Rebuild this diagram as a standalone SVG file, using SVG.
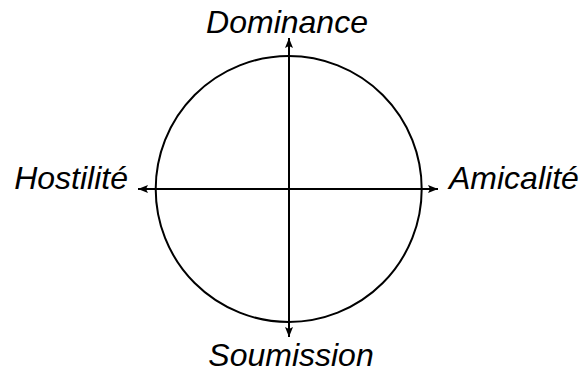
<svg xmlns="http://www.w3.org/2000/svg" width="584" height="372" viewBox="0 0 584 372">
<style>
.lbl{font-family:"Liberation Sans",Arial,sans-serif;font-style:italic;font-size:32px;fill:#000}
.ax{stroke:#000;stroke-width:2;fill:none}
</style>
<defs>
<marker id="ah" viewBox="0 0 10 8" refX="10" refY="4" markerWidth="5" markerHeight="4" orient="auto-start-reverse" markerUnits="strokeWidth">
<path d="M0,0 L10,4 L0,8 L2,4 Z" fill="#000"/>
</marker>
</defs>
<rect width="584" height="372" fill="#fff"/>
<g id="circle"><circle cx="288.7" cy="189" r="133" class="ax"/></g>
<g id="connectors">
<line x1="289" y1="38" x2="289" y2="337" class="ax" marker-start="url(#ah)" marker-end="url(#ah)"/>
<line x1="138" y1="189" x2="438" y2="189" class="ax" marker-start="url(#ah)" marker-end="url(#ah)"/>
</g>
<g id="dominance"><text class="lbl" x="287" y="33" text-anchor="middle">Dominance</text></g>
<g id="soumission"><text class="lbl" x="291" y="366" text-anchor="middle">Soumission</text></g>
<g id="hostilite"><text class="lbl" x="128" y="189" text-anchor="end">Hostilité</text></g>
<g id="amicalite"><text class="lbl" x="449" y="189">Amicalité</text></g>
</svg>
